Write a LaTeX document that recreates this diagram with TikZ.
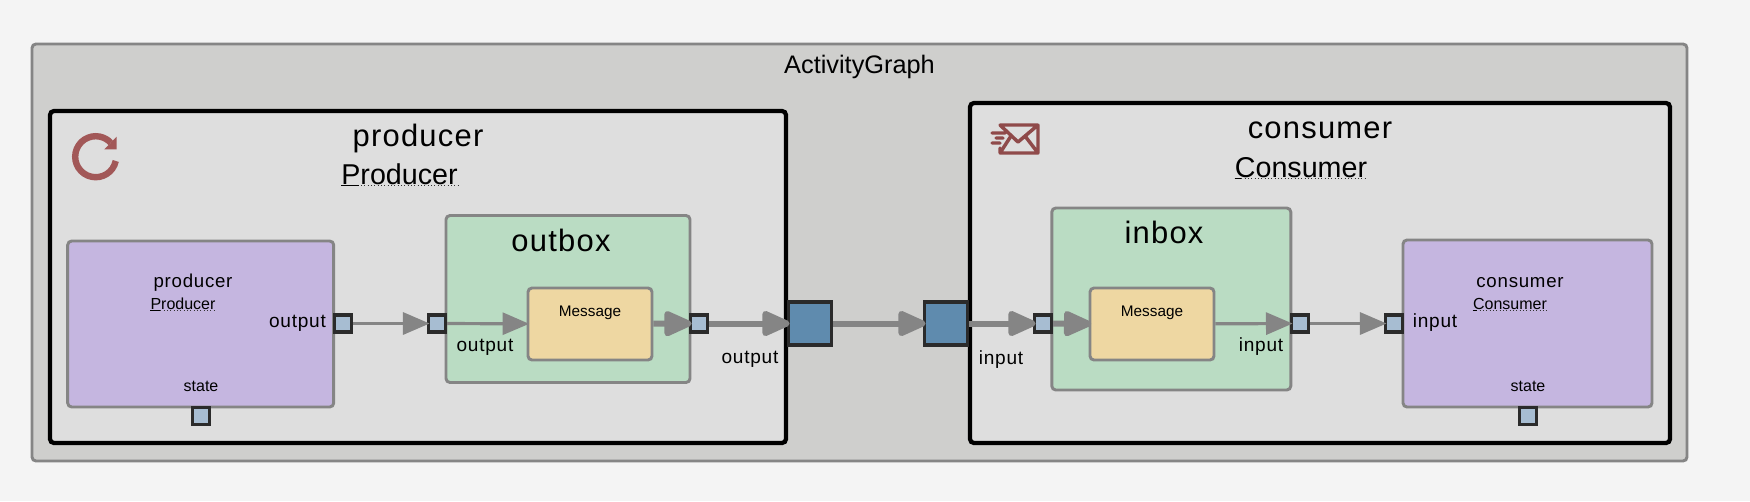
\documentclass[tikz,border=0pt]{standalone}
\usepackage{fontspec}
\setmainfont{Liberation Sans}
\newfontfamily\spacedfont{Liberation Sans}[LetterSpace=4]
\usetikzlibrary{arrows.meta}
\definecolor{pagebg}{HTML}{F4F4F4}
\definecolor{graphbg}{HTML}{CFCFCD}
\definecolor{actorbg}{HTML}{DEDEDE}
\definecolor{metabg}{HTML}{C5B6E0}
\definecolor{queuebg}{HTML}{BADCC3}
\definecolor{msgbg}{HTML}{EED7A2}
\definecolor{portbg}{HTML}{A7BDD2}
\definecolor{bigportbg}{HTML}{5F8BAE}
\definecolor{edgegray}{HTML}{858585}
\definecolor{portline}{HTML}{2B2B2B}
\definecolor{iconred}{HTML}{A25858}
\definecolor{iconline}{HTML}{8F4A4A}

\begin{document}
\begin{tikzpicture}[
    x=0.75pt, y=-0.75pt,
    boxsize/.style 2 args={minimum width=#1*0.75pt, minimum height=#2*0.75pt, inner sep=0pt},
    graphbox/.style={draw=edgegray, fill=graphbg, line width=2.2pt, rounded corners=3pt},
    actorbox/.style={draw=black, fill=actorbg, line width=3.2pt, rounded corners=3pt},
    metabox/.style={draw=edgegray, fill=metabg, line width=2.2pt, rounded corners=3pt},
    queuebox/.style={draw=edgegray, fill=queuebg, line width=2.2pt, rounded corners=3pt},
    msgbox/.style={draw=edgegray, fill=msgbg, line width=2.2pt, rounded corners=3pt},
    port/.style={draw=portline, fill=portbg, line width=2.3pt, boxsize={17}{17}},
    bigport/.style={draw=portline, fill=bigportbg, line width=2.3pt, boxsize={43}{43}},
    txt/.style={anchor=base, inner sep=0pt, text=black},
    bigtitle/.style={txt, font=\spacedfont\fontsize{23.2}{24}\selectfont},
    bigtype/.style={txt, font=\fontsize{21.5}{24}\selectfont},
    smalltitle/.style={txt, font=\spacedfont\fontsize{14}{16}\selectfont},
    smalltype/.style={txt, font=\fontsize{12}{14}\selectfont},
    portlabel/.style={txt, font=\spacedfont\fontsize{14.3}{16}\selectfont},
    statelabel/.style={txt, font=\fontsize{12}{14}\selectfont},
    typeline/.style={line width=0.5pt, dotted, draw=black!80},
    thinedge/.style={draw=edgegray, line width=2.4pt, shorten >=-2pt,
        -{Triangle[length=20pt, width=16.5pt]}},
    thickedge/.style={draw=edgegray, line width=4.5pt, shorten >=-2pt,
        -{Triangle[length=24pt, width=20pt, round]}}
]

% Background
\path[use as bounding box, fill=pagebg] (0,0) rectangle (1750,501);

% Boxes
\node[graphbox, boxsize={1655}{417}] (graph) at (859.5,252.5) {};
\node[actorbox, boxsize={736}{332}] (producer) at (418,277) {};
\node[actorbox, boxsize={700}{340}] (consumer) at (1320,273) {};
\node[metabox, boxsize={266}{166}] (prodmeta) at (200.7,324) {};
\node[metabox, boxsize={249}{167}] (consmeta) at (1527.5,323.5) {};
\node[queuebox, boxsize={244}{167}] (outbox) at (568,299) {};
\node[queuebox, boxsize={239}{182}] (inbox) at (1171.3,299) {};
\node[msgbox, boxsize={124}{72}] (outmsg) at (590,324) {};
\node[msgbox, boxsize={124}{72}] (inmsg) at (1152,324) {};

% Ports
\node[port] (prodout) at (343,323.5) {};
\node[port] (prodstate) at (200.7,416) {};
\node[port] (outboxin) at (437,323.5) {};
\node[port] (outboxout) at (699,323.5) {};
\node[bigport] (bigout) at (810,323.5) {};
\node[bigport] (bigin) at (946,323.5) {};
\node[port] (inboxin) at (1043,323.5) {};
\node[port] (inboxout) at (1300,323.5) {};
\node[port] (consin) at (1394,323.5) {};
\node[port] (consstate) at (1528,416) {};

% Text
\node[txt, font=\fontsize{19}{22}\selectfont] (graphtxt) at (859.5,73) {ActivityGraph};
\node[bigtitle] (prodtxt) at (418,146) {producer};
\node[bigtype] (prodtype) at (399.5,184) {Producer};
\node[bigtitle] (constxt) at (1320,138) {consumer};
\node[bigtype] (constype) at (1301,177) {Consumer};
\node[smalltitle] (prodmetatxt) at (193,287) {producer};
\node[smalltype] (prodmetatype) at (183,309) {Producer};
\node[smalltitle] (consmetatxt) at (1520,287) {consumer};
\node[smalltype] (consmetatype) at (1510,309) {Consumer};
\node[portlabel] (prodoutl) at (297.5,327) {output};
\node[portlabel] (outboxl) at (485,351) {output};
\node[portlabel] (bigoutl) at (750,363) {output};
\node[portlabel] (biginl) at (1001,364) {input};
\node[portlabel] (inboxl) at (1261,351) {input};
\node[portlabel] (consinl) at (1435,327) {input};
\node[statelabel] (prodstatel) at (201,391) {state};
\node[statelabel] (consstatel) at (1528,391) {state};
\node[bigtitle] (outboxtxt) at (561,251) {outbox};
\node[bigtitle] (inboxtxt) at (1164,243) {inbox};
\node[statelabel, font=\fontsize{11.5}{14}\selectfont] (outmsgtxt) at (590,316) {Message};
\node[statelabel, font=\fontsize{11.5}{14}\selectfont] (inmsgtxt) at (1152,316) {Message};

% Underlines
\foreach \t/\w in {prodtype/18, constype/6, prodmetatype/10, consmetatype/4} {
    \draw[typeline] ([yshift=-1pt]\t.base west) -- ([yshift=-1pt]\t.base east);
    \draw[line width=0.5pt] ([yshift=-1pt]\t.base west) -- ++(\w,0);
}

% Arrows
\draw[thinedge] (prodout) -- (outboxin);
\draw[thinedge] (outboxin) -- (outmsg);
\draw[thickedge] (outmsg) -- (outboxout);
\draw[thickedge] (outboxout) -- (bigout);
\draw[thickedge] (bigout) -- (bigin);
\draw[thickedge] (bigin) -- (inboxin);
\draw[thickedge] (inboxin) -- (inmsg);
\draw[thinedge] (inmsg) -- (inboxout);
\draw[thinedge] (inboxout) -- (consin);

% Icons
\begin{scope}[shift={(95.7,156.7)}, x=0.75pt, y=0.75pt]
    \draw[draw=iconred, line width=4.8pt]
        (-12:20.5) arc[start angle=-12, end angle=-317, radius=20.5];
    \fill[iconred] (21,20) -- (21,7.4) -- (8.6,7.4) -- cycle;
\end{scope}
\draw[draw=iconline, line width=2.6pt, line join=round, line cap=round]
    (1000,125) -- (1038,125) -- (1038,153) -- (1000,153) -- (1000,148)
    (1000,125) -- (1018,142) -- (1038,125)
    (1000,153) -- (1011,136)
    (1038,153) -- (1025,136)
    (992,133) -- (1005,133)
    (996,138) -- (1003,138)
    (992,143) -- (1000,143);

\end{tikzpicture}
\end{document}
